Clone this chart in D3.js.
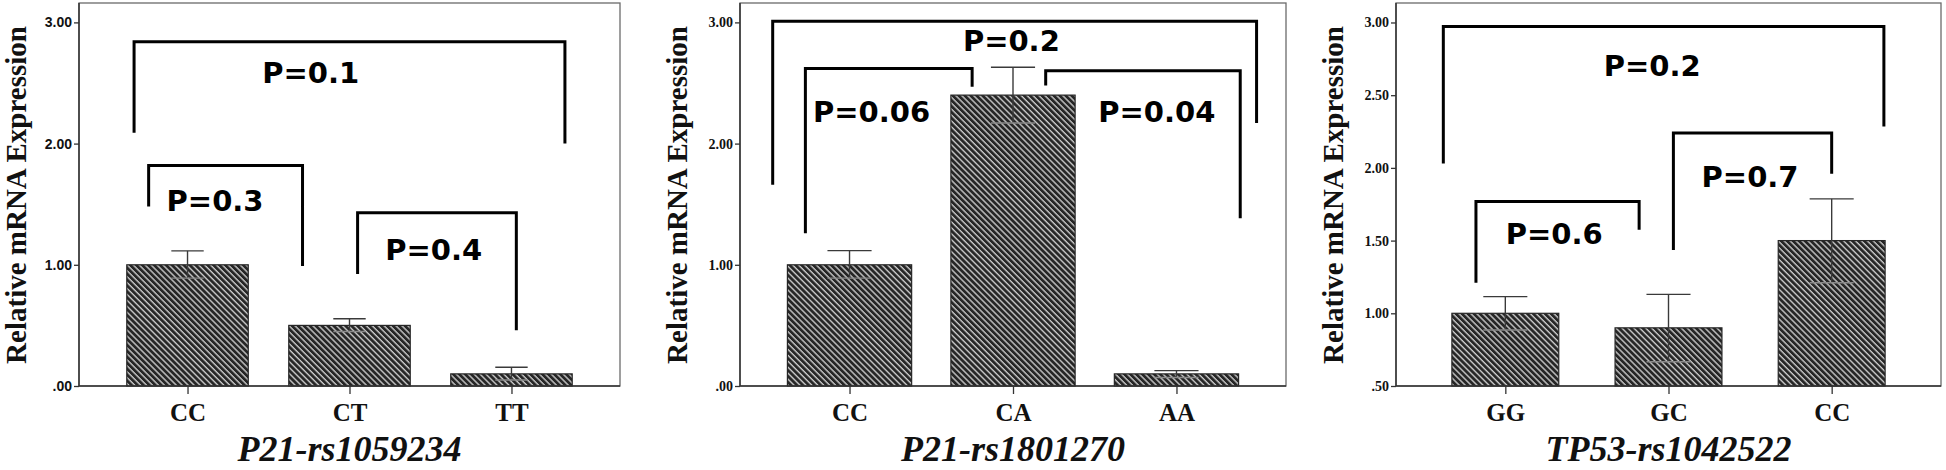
<!DOCTYPE html>
<html>
<head>
<meta charset="utf-8">
<script src="https://cdn.jsdelivr.net/npm/d3@7"></script>
<style>
  body { margin: 0; background: #fff; }
  svg { display: block; }
</style>
</head>
<body>
<div id="chart"></div>
<script>
/* global d3 */

// ---- data ----
// panel 1 : P21-rs1059234
const p21aCategories = ['CC', 'CT', 'TT'];
const p21aMeans = [1.00, 0.50, 0.10];
const p21aLow = [0.89, 0.45, 0.05];
const p21aHigh = [1.115, 0.555, 0.155];
const p21aTicks = [0, 1, 2, 3];
// brackets: ends given as category index (+ offset), heights in y units
const p21aBrackets = [
  { label: 'P=0.1', from: -0.33, to: 2.33, top: 2.84, left: 2.09, right: 2.00, tx: 0.76, ty: 2.50 },
  { label: 'P=0.3', from: -0.24, to: 0.71, top: 1.82, left: 1.48, right: 0.99, tx: 0.17, ty: 1.44 },
  { label: 'P=0.4', from: 1.05, to: 2.03, top: 1.43, left: 0.925, right: 0.46, tx: 1.52, ty: 1.04 }
];

// panel 2 : P21-rs1801270
const p21bCategories = ['CC', 'CA', 'AA'];
const p21bMeans = [1.00, 2.40, 0.10];
const p21bLow = [0.89, 2.17, 0.07];
const p21bHigh = [1.117, 2.63, 0.127];
const p21bTicks = [0, 1, 2, 3];
const p21bBrackets = [
  { label: 'P=0.2', from: -0.47, to: 2.49, top: 3.01, left: 1.66, right: 2.17, tx: 0.99, ty: 2.76 },
  { label: 'P=0.06', from: -0.27, to: 0.75, top: 2.62, left: 1.26, right: 2.47, tx: 0.135, ty: 2.18 },
  { label: 'P=0.04', from: 1.2, to: 2.39, top: 2.60, left: 2.48, right: 1.385, tx: 1.88, ty: 2.18 }
];

// panel 3 : TP53-rs1042522
const tp53Categories = ['GG', 'GC', 'CC'];
const tp53Means = [1.00, 0.90, 1.50];
const tp53Low = [0.885, 0.667, 1.21];
const tp53High = [1.115, 1.13, 1.787];
const tp53Ticks = [0.5, 1.0, 1.5, 2.0, 2.5, 3.0];
const tp53Brackets = [
  { label: 'P=0.2', from: -0.38, to: 2.32, top: 2.973, left: 2.03, right: 2.285, tx: 0.90, ty: 2.63 },
  { label: 'P=0.6', from: -0.18, to: 0.82, top: 1.768, left: 1.21, right: 1.574, tx: 0.30, ty: 1.48 },
  { label: 'P=0.7', from: 1.03, to: 2.00, top: 2.24, left: 1.436, right: 1.96, tx: 1.50, ty: 1.87 }
];

const W = 1946, H = 470;

let svg = d3.select('#chart')
  .append('svg')
    .attr('width', W)
    .attr('height', H)
    .attr('viewBox', [0, 0, W, H].join(' '));

svg.append('rect').attr('width', W).attr('height', H).attr('fill', '#fff');

// diagonal hatch used by every bar
let defs = svg.append('defs');
let pat = defs.append('pattern')
    .attr('id', 'hatch')
    .attr('patternUnits', 'userSpaceOnUse')
    .attr('width', 4.2)
    .attr('height', 4.2)
    .attr('patternTransform', 'rotate(-45)');
pat.append('rect').attr('width', 4.2).attr('height', 4.2).attr('fill', '#c8c8c8');
pat.append('line')
    .attr('x1', 1.4).attr('x2', 1.4)
    .attr('y1', 0).attr('y2', 4.2)
    .attr('stroke', '#262626')
    .attr('stroke-width', 2.8);

const fmt = v => d3.format('.2f')(v).replace(/^0\./, '.');

function drawPanel(cfg) {
  let top = 3, bottom = 386;

  let x = d3.scalePoint()
      .domain(cfg.categories)
      .range([cfg.x0, cfg.x1])
      .padding(0.67);

  let pos = f => x(cfg.categories[0]) + f * x.step();

  let y = d3.scaleLinear()
      .domain([cfg.yMin, cfg.yMax])
      .range([bottom, top]);

  let g = svg.append('g');

  // frame
  g.append('rect')
      .attr('x', cfg.x0)
      .attr('y', top)
      .attr('width', cfg.x1 - cfg.x0)
      .attr('height', bottom - top)
      .attr('fill', 'none')
      .attr('stroke', '#6a6a6a')
      .attr('stroke-width', 1.3);

  let barW = x.step() * cfg.barFrac;
  let data = cfg.categories.map((c, i) => ({
    cat: c, mean: cfg.means[i], lo: cfg.low[i], hi: cfg.high[i]
  }));

  // bars
  g.append('g')
    .selectAll('rect')
    .data(data)
    .enter()
    .append('rect')
      .attr('x', d => x(d.cat) - barW / 2)
      .attr('y', d => y(d.mean))
      .attr('width', barW)
      .attr('height', d => y(cfg.yMin) - y(d.mean))
      .attr('fill', 'url(#hatch)')
      .attr('stroke', '#262626')
      .attr('stroke-width', 1.2);

  // error bars
  let capW = x.step() * cfg.capFrac;
  let err = g.append('g')
    .selectAll('g')
    .data(data)
    .enter()
    .append('g')
      .attr('stroke', '#3a3a3a')
      .attr('stroke-width', 1.4);
  err.append('line')
      .attr('x1', d => x(d.cat)).attr('x2', d => x(d.cat))
      .attr('y1', d => y(d.lo)).attr('y2', d => y(d.hi));
  err.append('line')
      .attr('x1', d => x(d.cat) - capW / 2).attr('x2', d => x(d.cat) + capW / 2)
      .attr('y1', d => y(d.hi)).attr('y2', d => y(d.hi));
  err.append('line')
      .attr('stroke', '#8a8a8a')
      .attr('x1', d => x(d.cat) - capW / 2).attr('x2', d => x(d.cat) + capW / 2)
      .attr('y1', d => y(d.lo)).attr('y2', d => y(d.lo));

  // y axis
  let yAxis = g.append('g')
      .attr('transform', 'translate(' + cfg.x0 + ',0)')
      .call(d3.axisLeft(y).tickValues(cfg.ticks).tickSize(5).tickPadding(2).tickFormat(fmt));
  yAxis.select('.domain')
      .attr('stroke', '#333')
      .attr('stroke-width', 1.5)
      .attr('d', 'M0,' + top + 'V' + bottom);
  yAxis.selectAll('.tick line').attr('stroke', '#333').attr('stroke-width', 1.3);
  yAxis.selectAll('.tick text')
      .attr('fill', '#111')
      .style('font-family', cfg.tickFont)
      .style('font-weight', 'bold')
      .style('font-size', '14px');

  // x axis
  let xAxis = g.append('g')
      .attr('transform', 'translate(0,' + bottom + ')')
      .call(d3.axisBottom(x).tickSize(8).tickPadding(9));
  xAxis.select('.domain')
      .attr('stroke', '#333')
      .attr('stroke-width', 1.5)
      .attr('d', 'M' + cfg.x0 + ',0H' + cfg.x1);
  xAxis.selectAll('.tick line').attr('stroke', '#333').attr('stroke-width', 1.3);
  xAxis.selectAll('.tick text')
      .attr('fill', '#111')
      .style('font-family', '"Liberation Serif", "Times New Roman", serif')
      .style('font-weight', 'bold')
      .style('font-size', '25px');

  // axis titles
  g.append('text')
      .attr('transform', 'translate(' + (cfg.x0 - 53) + ',195) rotate(-90)')
      .attr('text-anchor', 'middle')
      .style('font-family', '"Liberation Serif", "Times New Roman", serif')
      .style('font-weight', 'bold')
      .style('font-size', '29px')
      .attr('fill', '#111')
      .text('Relative mRNA Expression');

  g.append('text')
      .attr('x', (cfg.x0 + cfg.x1) / 2)
      .attr('y', 461)
      .attr('text-anchor', 'middle')
      .style('font-family', '"Liberation Serif", "Times New Roman", serif')
      .style('font-weight', 'bold')
      .style('font-style', 'italic')
      .style('font-size', '36px')
      .attr('fill', '#111')
      .text(cfg.title);

  // significance brackets
  let br = g.append('g')
    .selectAll('g')
    .data(cfg.brackets)
    .enter()
    .append('g');

  br.append('path')
      .attr('d', d => 'M' + pos(d.from) + ',' + y(d.left) +
        'V' + y(d.top) + 'H' + pos(d.to) + 'V' + y(d.right))
      .attr('fill', 'none')
      .attr('stroke', '#000')
      .attr('stroke-width', 3);

  br.append('text')
      .attr('x', d => pos(d.tx))
      .attr('y', d => y(d.ty))
      .attr('text-anchor', 'middle')
      .style('font-family', '"DejaVu Sans", sans-serif')
      .style('font-weight', 'bold')
      .style('font-size', '29px')
      .attr('fill', '#000')
      .text(d => d.label);
}

drawPanel({
  title: 'P21-rs1059234', x0: 79, x1: 620, yMin: 0, yMax: 3.16,
  categories: p21aCategories, means: p21aMeans, low: p21aLow, high: p21aHigh,
  ticks: p21aTicks, brackets: p21aBrackets, barFrac: 0.75, capFrac: 0.2,
  tickFont: '"Liberation Sans", Arial, sans-serif'
});

drawPanel({
  title: 'P21-rs1801270', x0: 740, x1: 1286, yMin: 0, yMax: 3.16,
  categories: p21bCategories, means: p21bMeans, low: p21bLow, high: p21bHigh,
  ticks: p21bTicks, brackets: p21bBrackets, barFrac: 0.76, capFrac: 0.27,
  tickFont: '"Liberation Serif", "Times New Roman", serif'
});

drawPanel({
  title: 'TP53-rs1042522', x0: 1396, x1: 1941, yMin: 0.5, yMax: 3.134,
  categories: tp53Categories, means: tp53Means, low: tp53Low, high: tp53High,
  ticks: tp53Ticks, brackets: tp53Brackets, barFrac: 0.655, capFrac: 0.27,
  tickFont: '"Liberation Serif", "Times New Roman", serif'
});
</script>
</body>
</html>
